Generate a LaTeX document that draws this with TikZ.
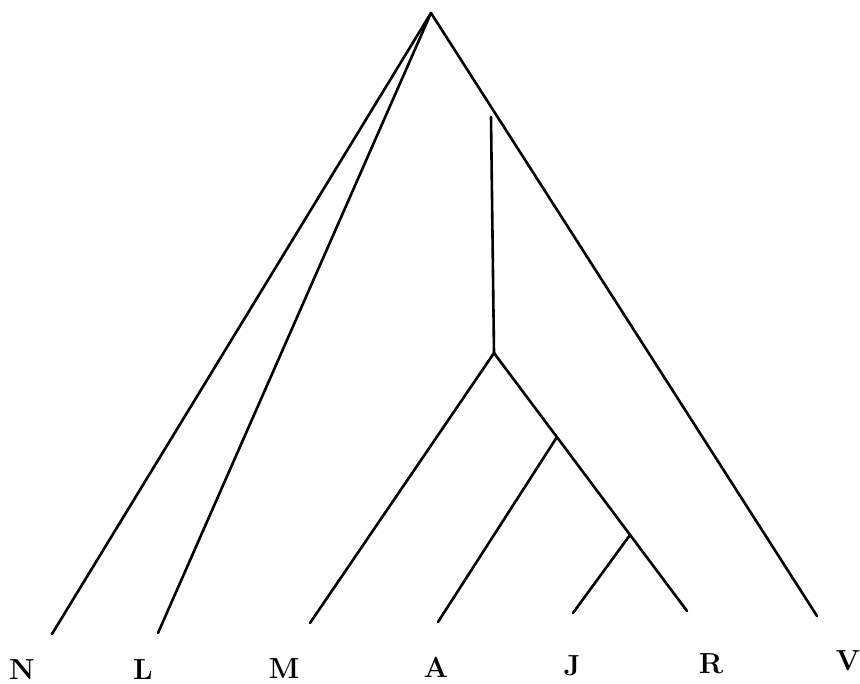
\documentclass[tikz,border=0pt]{standalone}
\usetikzlibrary{calc}
\begin{document}
\begin{tikzpicture}[x=1pt,y=-1pt,
  branch/.style={line width=2.6pt,line cap=round,line join=round},
  leaflabel/.style={font=\fontsize{29}{31}\selectfont\bfseries,inner sep=0pt}]
\useasboundingbox (0,0) rectangle (860,684);
% junctions and leaf ends
\coordinate (top) at (431,13);
\coordinate (vtop) at (491,117);
\coordinate (j1) at (494,353);
\coordinate (eN) at (52,634);
\coordinate (eL) at (158,633);
\coordinate (eM) at (310,623);
\coordinate (eA) at (438,622);
\coordinate (eJ) at (573,613);
\coordinate (eR) at (687,611);
\coordinate (eV) at (817,616);
\coordinate (j2) at ($(j1)!0.326!(eR)$);
\coordinate (j3) at ($(j1)!0.705!(eR)$);
% branches
\draw[branch] (eN) -- (top) -- (eV);
\draw[branch] (top) -- (eL);
\draw[branch] (vtop) -- (j1);
\draw[branch] (eM) -- (j1) -- (eR);
\draw[branch] (j2) -- (eA);
\draw[branch] (j3) -- (eJ);
% labels
\node[leaflabel] (lN) at (22,670) {N};
\node[leaflabel] (lL) at (143,670) {L};
\node[leaflabel] (lM) at (284,669) {M};
\node[leaflabel] (lA) at (436,667) {A};
\node[leaflabel] (lJ) at (572,666) {J};
\node[leaflabel] (lR) at (711,664) {R};
\node[leaflabel] (lV) at (848,661) {V};
\end{tikzpicture}
\end{document}
